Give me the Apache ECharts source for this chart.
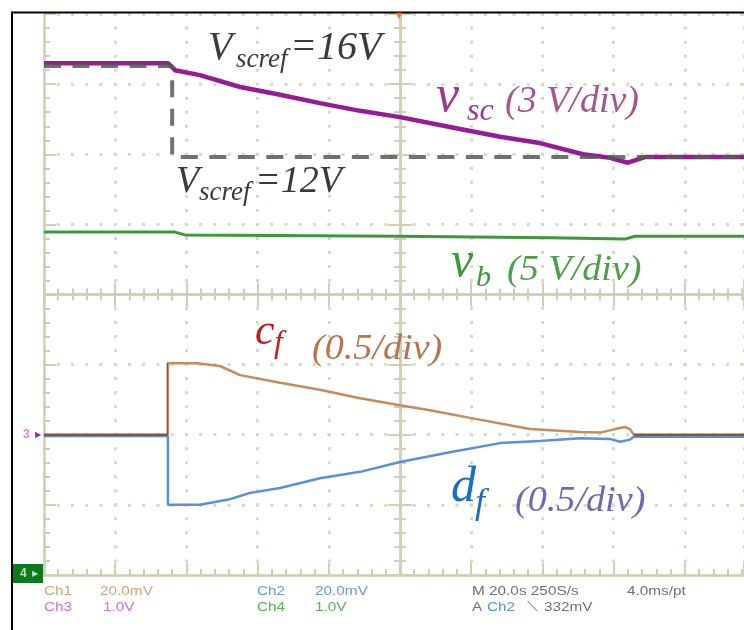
<!DOCTYPE html>
<html>
<head>
<meta charset="utf-8">
<script src="https://cdn.jsdelivr.net/npm/echarts@6/dist/echarts.min.js"></script>
<style>
html,body{margin:0;padding:0;background:#fff;}
#chart{width:744px;height:630px;}
</style>
</head>
<body>
<div id="chart"></div>
<script>
// time axis: seconds relative to trigger (20 s/div), vertical: screen divisions
const vscT = [-100, -65.2, -63.2, -56.2, -44.9, -33.7, -22.5, -11.2, 0, 14.0, 28.1, 39.3, 51.4, 59.0, 64.0, 68.8, 100];
const vscV = [3.30, 3.30, 3.20, 3.13, 2.96, 2.85, 2.73, 2.62, 2.53, 2.39, 2.25, 2.16, 2.00, 1.95, 1.88, 1.96, 1.96];

const refT = [-100, -64.0, -64.0, 100];
const refV = [3.26, 3.26, 1.96, 1.96];

const vbT = [-100, -63.2, -60.4, 0, 42.1, 63.2, 66.0, 100];
const vbV = [0.89, 0.89, 0.85, 0.83, 0.81, 0.79, 0.83, 0.83];

const cfT = [-100, -65.2, -65.2, -57.0, -50.6, -44.9, -33.7, -22.5, -11.2, 0, 8.4, 19.7, 36.5, 50.6, 56.2, 60.4, 63.2, 64.6, 65.7, 100];
const cfV = [-2.0, -2.0, -0.98, -0.98, -1.02, -1.15, -1.26, -1.36, -1.48, -1.58, -1.65, -1.76, -1.92, -1.96, -1.97, -1.92, -1.89, -1.92, -2.0, -2.0];

const dfT = [-100, -65.2, -65.2, -56.2, -47.8, -42.1, -33.7, -22.5, -11.2, 0, 14.0, 28.1, 39.3, 50.6, 59.0, 61.8, 64.6, 65.7, 100];
const dfV = [-2.02, -2.02, -3.0, -3.0, -2.92, -2.83, -2.76, -2.62, -2.53, -2.39, -2.25, -2.12, -2.09, -2.05, -2.06, -2.10, -2.07, -2.03, -2.03];

const statusRow1 = ['Ch1', '20.0mV', 'Ch2', '20.0mV', 'M 20.0s 250S/s', '4.0ms/pt'];
const statusRow2 = ['Ch3', '1.0V', 'Ch4', '1.0V', 'A', 'Ch2', '\u27CD', '332mV'];

const zip = (t, v) => t.map((x, i) => [x, v[i]]);

const TAN = '#d2cdb5';
const DOT = '#dcd8c5';

function axisCommon(extra) {
  return Object.assign({
    type: 'value',
    axisLabel: { show: false },
    splitLine: { show: false },
    axisTick: { show: true, inside: true, length: 12, lineStyle: { color: TAN, width: 2 } },
    minorTick: { show: true, splitNumber: 5, length: 6, lineStyle: { color: TAN, width: 2 } },
    axisLine: { show: true, lineStyle: { color: TAN, width: 2.5 } }
  }, extra);
}
// visible window: the screen is cut at the right edge (t = 96.63 s)
const X = { min: -100, max: 96.63, interval: 20 };
const Y = { min: -4, max: 4, interval: 1 };

function lbl(x, base, text, size, color, sx) {
  return {
    type: 'text', x: x, y: base - 0.34 * size, scaleX: sx || 1, z: 100,
    style: { text: text, fill: color, font: 'italic ' + size + 'px "Liberation Serif"', verticalAlign: 'middle', align: 'left' }
  };
}
function st(x, y, text, color) {
  return {
    type: 'text', x: x, y: y, scaleX: 1.18, z: 100,
    style: { text: text, fill: color, font: '13px "Liberation Sans"', verticalAlign: 'middle', align: 'left' }
  };
}

const chart = echarts.init(document.getElementById('chart'), null, { renderer: 'canvas' });
chart.setOption({
  animation: false,
  backgroundColor: '#ffffff',
  grid: [
    { left: 44, top: 14.1, right: 0, height: 560.8 },
    { left: 44, top: 14.1, right: 0, height: 560.8 }
  ],
  xAxis: [
    axisCommon(Object.assign({ gridIndex: 0, position: 'bottom', axisLine: { onZero: false, lineStyle: { color: TAN, width: 2.5 } },
      splitLine: { show: true, lineStyle: { color: DOT, width: 3, type: [3, 11.02], dashOffset: 1.5 } } }, X)),
    axisCommon(Object.assign({ gridIndex: 0, position: 'top', axisLine: { onZero: true, lineStyle: { color: TAN, width: 2.5 } } }, X)),
    axisCommon(Object.assign({ gridIndex: 1, position: 'bottom', axisLine: { onZero: true, lineStyle: { color: TAN, width: 2.5 } } }, X))
  ],
  yAxis: [
    axisCommon(Object.assign({ gridIndex: 0, position: 'left', axisLine: { onZero: false, lineStyle: { color: TAN, width: 2.5 } },
      splitLine: { show: true, lineStyle: { color: DOT, width: 3, type: [3, 11.24], dashOffset: 1.5 } } }, Y)),
    axisCommon(Object.assign({ gridIndex: 0, position: 'right', axisLine: { onZero: true, lineStyle: { color: TAN, width: 2.5 } } }, Y)),
    axisCommon(Object.assign({ gridIndex: 1, position: 'left', axisLine: { onZero: true, lineStyle: { color: TAN, width: 2.5 } } }, Y))
  ],
  visualMap: [{
    show: false, type: 'piecewise', seriesIndex: 1, dimension: 0,
    pieces: [
      { lt: -65.1, color: '#8a5430' },
      { gte: -65.1, lt: 65.6, color: '#c68a5c' },
      { gte: 65.6, color: '#8a5430' }
    ]
  }],
  series: [
    { name: 'd_f', type: 'line', xAxisIndex: 0, yAxisIndex: 0, data: zip(dfT, dfV), showSymbol: false, z: 3,
      lineStyle: { color: '#5a8ee0', width: 2.5 } },
    { name: 'c_f', type: 'line', xAxisIndex: 0, yAxisIndex: 0, data: zip(cfT, cfV), showSymbol: false, z: 4,
      lineStyle: { width: 2.5 } },
    { name: 'v_b', type: 'line', xAxisIndex: 0, yAxisIndex: 0, data: zip(vbT, vbV), showSymbol: false, z: 5,
      lineStyle: { color: '#3a9a3a', width: 3 } },
    { name: 'v_sc', type: 'line', xAxisIndex: 0, yAxisIndex: 0, data: zip(vscT, vscV), showSymbol: false, z: 6,
      lineStyle: { color: '#961c96', width: 4.5 } },
    { name: 'V_scref', type: 'line', xAxisIndex: 0, yAxisIndex: 0, data: zip(refT, refV), showSymbol: false, z: 7,
      lineStyle: { color: '#585858', width: 4, type: [17, 11.5], opacity: 0.85 } }
  ],
  graphic: [
    // outer black frame
    { type: 'line', z: 100, shape: { x1: 12, y1: 12.5, x2: 744, y2: 12.5 }, style: { stroke: '#000', lineWidth: 2 } },
    { type: 'line', z: 100, shape: { x1: 12, y1: 11.5, x2: 12, y2: 630 }, style: { stroke: '#000', lineWidth: 2 } },
    // trigger marker
    { type: 'text', x: 399, y: 16, z: 100, style: { text: '\u25BC', fill: '#ff7020', font: '8px "DejaVu Sans"', align: 'center', verticalAlign: 'middle' } },
    // ch3 marker
    { type: 'text', x: 23, y: 435, z: 100, style: { text: '3', fill: '#d98ad9', font: 'bold 12px "Liberation Sans"', align: 'left', verticalAlign: 'middle' } },
    { type: 'text', x: 35, y: 435, z: 100, style: { text: '\u25B6', fill: '#b020b0', font: '8px "DejaVu Sans"', align: 'left', verticalAlign: 'middle' } },
    // ch4 marker
    { type: 'rect', z: 100, shape: { x: 13, y: 564, width: 30, height: 19 }, style: { fill: '#0c7a1c' } },
    { type: 'text', x: 20, y: 574, z: 101, style: { text: '4', fill: '#b8e0b8', font: 'bold 12px "Liberation Sans"', align: 'left', verticalAlign: 'middle' } },
    { type: 'text', x: 32, y: 574, z: 101, style: { text: '\u25B6', fill: '#b8e0b8', font: '8px "DejaVu Sans"', align: 'left', verticalAlign: 'middle' } },

    // V_scref = 16V
    lbl(208, 62, 'V', 40, '#3a3a3a'),
    lbl(236, 69, 'scref', 27, '#3a3a3a'),
    lbl(290, 62, '=16V', 40, '#3a3a3a'),
    // V_scref = 12V
    lbl(176, 195, 'V', 38, '#3a3a3a'),
    lbl(199, 202, 'scref', 27, '#3a3a3a'),
    lbl(255, 195, '=12V', 38, '#3a3a3a'),
    // v_sc
    lbl(436, 115, 'v', 52, '#9a3a8e'),
    lbl(467, 122, 'sc', 32, '#9a3a8e'),
    lbl(505, 115, '(3 V/div)', 38, '#a8558e'),
    // v_b
    lbl(451, 280, 'v', 50, '#3a9a3a'),
    lbl(476, 288, 'b', 30, '#3a9a3a'),
    lbl(507, 283, '(5 V/div)', 36, '#4aa04a', 1.06),
    // c_f
    lbl(255, 347, 'c', 44, '#c41a1a'),
    lbl(274, 354, 'f', 32, '#c41a1a'),
    lbl(312, 362, '(0.5/div)', 35, '#b8744c', 1.09),
    // d_f
    lbl(451, 505, 'd', 50, '#1a6ec4'),
    lbl(475, 516, 'f', 36, '#1a6ec4'),
    lbl(515, 514, '(0.5/div)', 36, '#6e68b8', 1.06),

    // status text
    st(44, 591, statusRow1[0], '#d4a478'),
    st(100, 591, statusRow1[1], '#d4a478'),
    st(257, 591, statusRow1[2], '#6a96e6'),
    st(315, 591, statusRow1[3], '#6a96e6'),
    st(472, 591, statusRow1[4], '#707070'),
    st(627, 591, statusRow1[5], '#707070'),
    st(44, 607, statusRow2[0], '#d070d8'),
    st(103, 607, statusRow2[1], '#d070d8'),
    st(257, 607, statusRow2[2], '#5ab05a'),
    st(315, 607, statusRow2[3], '#5ab05a'),
    st(472, 607, statusRow2[4], '#707070'),
    st(487, 607, statusRow2[5], '#5a8ee6'),
    st(527, 607, statusRow2[6], '#707070'),
    st(544, 607, statusRow2[7], '#707070')
  ]
});
</script>
</body>
</html>
